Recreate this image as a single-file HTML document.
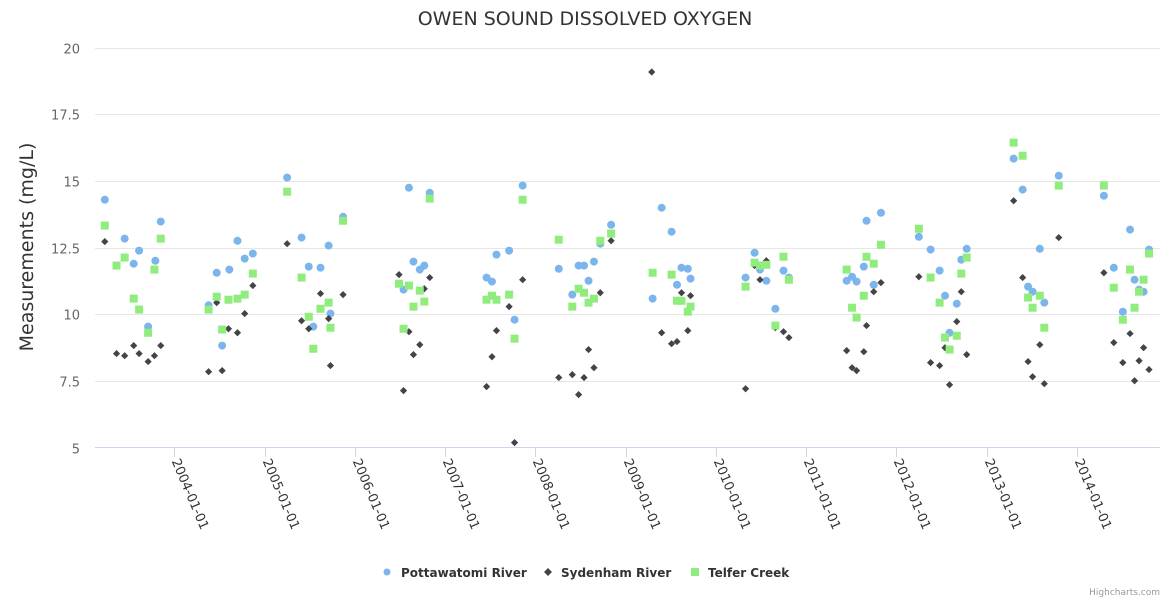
<!DOCTYPE html>
<html><head><meta charset="utf-8"><style>
body{margin:0;background:#fff;}
svg{display:block;font-family:"DejaVu Sans","Liberation Sans",Arial,sans-serif;}
</style></head><body>
<svg id="chart" width="1170" height="600">
<rect width="1170" height="600" fill="#fff"/>
<text x="585" y="25" text-anchor="middle" font-size="19" fill="#333">OWEN SOUND DISSOLVED OXYGEN</text>
<text transform="translate(33,247) rotate(-90)" text-anchor="middle" font-size="19" fill="#333">Measurements (mg/L)</text>
<g id="grid"></g><g id="xaxis"></g><g id="marks"></g>
<g id="legend">
<circle cx="387" cy="572" r="3.5" fill="#7cb5ec"/>
<text x="401" y="577" font-size="12" font-weight="bold" fill="#333">Pottawatomi River</text>
<path d="M548,568 L552,572 L548,576 L544,572 Z" fill="#434348"/>
<text x="561" y="577" font-size="12" font-weight="bold" fill="#333">Sydenham River</text>
<rect x="691" y="568" width="8" height="8" fill="#90ed7d"/>
<text x="708" y="577" font-size="12" font-weight="bold" fill="#333">Telfer Creek</text>
</g>
<text x="1160" y="595" text-anchor="end" font-size="9" fill="#999">Highcharts.com</text>
</svg>
<script>
const yTicks=[5,7.5,10,12.5,15,17.5,20];
const yTickLabels=["5","7.5","10","12.5","15","17.5","20"];
const xTicks=[2004,2005,2006,2007,2008,2009,2010,2011,2012,2013,2014];
const xTickLabels=["2004-01-01","2005-01-01","2006-01-01","2007-01-01","2008-01-01","2009-01-01","2010-01-01","2011-01-01","2012-01-01","2013-01-01","2014-01-01"];
const potX=[2003.23,2003.45,2003.61,2003.55,2003.85,2003.79,2003.71,2004.38,2004.47,2004.53,2004.61,2004.70,2004.78,2004.87,2005.25,2005.41,2005.49,2005.62,2005.71,2005.73,2005.54,2005.87,2006.60,2006.83,2006.65,2006.72,2006.77,2006.54,2007.86,2007.46,2007.52,2007.57,2007.71,2007.77,2008.84,2008.72,2008.26,2008.48,2008.54,2008.65,2008.59,2008.41,2009.40,2009.51,2009.30,2009.62,2009.69,2009.72,2009.57,2010.43,2010.33,2010.49,2010.56,2010.75,2010.81,2010.66,2011.67,2011.83,2011.64,2011.45,2011.51,2011.56,2011.75,2012.25,2012.38,2012.48,2012.54,2012.59,2012.67,2012.72,2012.78,2013.30,2013.40,2013.46,2013.51,2013.59,2013.64,2013.80,2014.30,2014.41,2014.51,2014.59,2014.64,2014.69,2014.74,2014.80];
const potY=[14.30,12.84,12.39,11.90,13.48,12.01,9.54,10.34,11.56,8.83,11.68,12.76,12.09,12.28,15.13,12.88,11.79,11.75,12.58,10.03,9.54,13.66,14.75,14.56,11.98,11.68,11.83,10.93,14.83,11.38,11.23,12.24,12.39,9.80,13.36,12.65,11.71,11.83,11.83,11.98,11.26,10.74,14.00,13.10,10.59,11.75,11.71,11.34,11.11,12.31,11.38,11.68,11.26,11.64,11.38,10.21,13.51,13.81,11.79,11.26,11.41,11.23,11.11,12.91,12.43,11.64,10.70,9.31,10.40,12.05,12.46,15.84,14.68,11.04,10.85,12.46,10.44,15.20,14.45,11.75,10.10,13.18,11.30,10.93,10.85,12.43];
const sydX=[2003.23,2003.36,2003.45,2003.55,2003.61,2003.71,2003.78,2003.85,2004.38,2004.47,2004.53,2004.60,2004.70,2004.78,2004.87,2005.25,2005.41,2005.49,2005.62,2005.71,2005.73,2005.87,2006.49,2006.83,2006.77,2006.60,2006.72,2006.65,2006.54,2007.86,2007.71,2007.57,2007.52,2007.46,2007.77,2008.84,2008.72,2008.59,2008.65,2008.26,2008.41,2008.54,2008.48,2009.29,2009.40,2009.51,2009.57,2009.69,2009.62,2009.72,2010.33,2010.43,2010.49,2010.56,2010.66,2010.75,2010.81,2011.45,2011.51,2011.56,2011.64,2011.67,2011.75,2011.83,2012.25,2012.38,2012.48,2012.54,2012.59,2012.67,2012.72,2012.78,2013.30,2013.40,2013.46,2013.51,2013.59,2013.64,2013.80,2014.30,2014.41,2014.51,2014.59,2014.64,2014.69,2014.74,2014.80];
const sydY=[12.73,8.53,8.45,8.83,8.53,8.23,8.45,8.83,7.85,10.44,7.89,9.46,9.31,10.03,11.08,12.65,9.76,9.46,10.78,9.84,8.08,10.74,11.49,11.38,10.96,9.35,8.86,8.49,7.14,11.30,10.29,9.39,8.41,7.29,5.19,12.76,10.81,8.68,8.00,7.63,7.74,7.63,6.99,19.09,9.31,8.90,8.98,9.39,10.81,10.70,7.21,11.83,11.30,12.01,9.50,9.35,9.13,8.64,8.00,7.89,8.60,9.58,10.85,11.19,11.41,8.19,8.08,8.75,7.36,9.73,10.85,8.49,14.26,11.38,8.23,7.66,8.86,7.40,12.88,11.56,8.94,8.19,9.28,7.51,8.26,8.75,7.93];
const telX=[2003.23,2003.36,2003.45,2003.55,2003.61,2003.71,2003.78,2003.85,2004.38,2004.47,2004.53,2004.60,2004.70,2004.78,2004.87,2005.25,2005.41,2005.49,2005.54,2005.62,2005.71,2005.73,2005.87,2006.83,2006.49,2006.60,2006.72,2006.77,2006.65,2006.54,2007.86,2007.46,2007.52,2007.57,2007.71,2007.77,2008.26,2008.72,2008.84,2008.48,2008.54,2008.65,2008.59,2008.41,2009.30,2009.51,2009.57,2009.62,2009.72,2009.69,2010.33,2010.43,2010.49,2010.56,2010.75,2010.81,2010.66,2011.45,2011.51,2011.56,2011.64,2011.67,2011.75,2011.83,2012.25,2012.38,2012.48,2012.54,2012.59,2012.67,2012.72,2012.78,2013.30,2013.40,2013.46,2013.51,2013.59,2013.64,2013.80,2014.30,2014.41,2014.51,2014.59,2014.64,2014.69,2014.74,2014.80];
const telY=[13.33,11.83,12.13,10.59,10.18,9.31,11.68,12.84,10.18,10.66,9.43,10.55,10.59,10.74,11.53,14.60,11.38,9.91,8.71,10.21,10.44,9.50,13.51,14.34,11.15,11.08,10.89,10.48,10.29,9.46,14.30,10.55,10.70,10.55,10.74,9.09,12.80,12.76,13.03,10.96,10.81,10.59,10.44,10.29,11.56,11.49,10.51,10.51,10.29,10.10,11.04,11.94,11.83,11.86,12.16,11.30,9.58,11.68,10.25,9.88,10.70,12.16,11.90,12.61,13.21,11.38,10.44,9.13,8.68,9.20,11.53,12.13,16.44,15.95,10.63,10.25,10.70,9.50,14.83,14.83,11.00,9.80,11.68,10.25,10.85,11.30,12.28];

const NS='http://www.w3.org/2000/svg';
const plotL=95,plotR=1160,plotT=47.7,plotB=447.7;
function xs(v){return 174.3+(v-2004)*90.25;}
function ys(v){return plotB-(v-5)*(plotB-plotT)/15;}
function mk(tag,attrs,parent){const e=document.createElementNS(NS,tag);for(const k in attrs)e.setAttribute(k,attrs[k]);parent.appendChild(e);return e;}
const grid=document.getElementById('grid');
yTicks.forEach((t,i)=>{
  const y=Math.round(ys(t))+0.5;
  if(t>5){const l=mk('line',{x1:plotL,x2:plotR,y1:y,y2:y,stroke:'#e6e6e6','stroke-width':1},grid);
  
  }
  const tx=mk('text',{x:80,y:y+5,'text-anchor':'end','font-size':13,fill:'#666'},grid);
  tx.textContent=yTickLabels[i];
  
  
});
const xa=document.getElementById('xaxis');
const al=mk('line',{x1:plotL,x2:plotR,y1:447.5,y2:447.5,stroke:'#ccd6eb','stroke-width':1},xa);


xTicks.forEach((t,i)=>{
  const x=Math.round(xs(t))+0.5;
  const tk=mk('line',{x1:x,x2:x,y1:447,y2:457,stroke:'#ccd6eb','stroke-width':1},xa);
  
  
  const tx=mk('text',{x:x-3,y:461,transform:`rotate(67 ${x-3} 461)`,'font-size':13,fill:'#333'},xa);
  tx.textContent=xTickLabels[i];
  
  
});
const marks=document.getElementById('marks');
potX.forEach((v,i)=>{
  const c=mk('circle',{cx:xs(v),cy:ys(potY[i]),r:4,fill:'#7cb5ec'},marks);
  
  
});
sydX.forEach((v,i)=>{
  const x=xs(v),y=ys(sydY[i]);
  const p=mk('path',{d:`M${x},${y-3.6} L${x+3.6},${y} L${x},${y+3.6} L${x-3.6},${y} Z`,fill:'#434348'},marks);
  
  
});
telX.forEach((v,i)=>{
  const r=mk('rect',{x:xs(v)-4,y:ys(telY[i])-4,width:8,height:8,fill:'#90ed7d'},marks);
  
  
});
</script>
</body></html>
